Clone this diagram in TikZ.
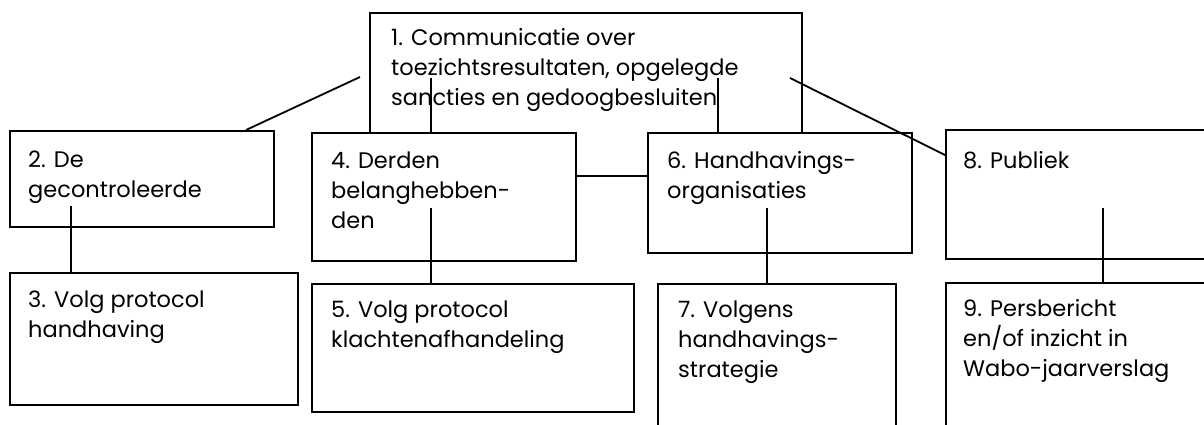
\documentclass[tikz,border=0pt]{standalone}
\usepackage{fontspec}
\setmainfont{Poppins}
\usetikzlibrary{calc}
\tikzset{
  box/.style={draw=black, fill=white, line width=1.8pt, rectangle, inner sep=0pt, anchor=north west},
  txt/.style={anchor=base west, inner sep=0pt, text=black},
  conn/.style={draw=black, line width=1.8pt},
}
\newcommand{\boxtext}[1]{\parbox[t]{400pt}{\fontsize{22.5}{30}\selectfont\raggedright #1}}
\begin{document}
\begin{tikzpicture}[x=1pt,y=-1pt]
\useasboundingbox (0,0) rectangle (1204,425);
\clip (0,0) rectangle (1204,425);
% box 1 (behind)
\node[box, minimum width=432pt, minimum height=163pt] (b1) at (369,12) {};
\node[txt] (t1) at ($(b1.north west)+(22,34)$) {\boxtext{1. Communicatie over\\toezichtsresultaten, opgelegde\\sancties en gedoogbesluiten}};
% other boxes
\node[box, minimum width=264pt, minimum height=96pt] (b2) at (9,130) {};
\node[txt] (t2) at ($(b2.north west)+(19,37)$) {\boxtext{2. De\\gecontroleerde}};
\node[box, minimum width=288pt, minimum height=132pt] (b3) at (9,272) {};
\node[txt] (t3) at ($(b3.north west)+(19,35)$) {\boxtext{3. Volg protocol\\handhaving}};
\node[box, minimum width=264pt, minimum height=128pt] (b4) at (311,132) {};
\node[txt] (t4) at ($(b4.north west)+(20,36)$) {\boxtext{4. Derden\\belanghebben-\\den}};
\node[box, minimum width=322pt, minimum height=128pt] (b5) at (311,283) {};
\node[txt] (t5) at ($(b5.north west)+(20,34)$) {\boxtext{5. Volg protocol\\klachtenafhandeling}};
\node[box, minimum width=264pt, minimum height=120pt] (b6) at (647,132) {};
\node[txt] (t6) at ($(b6.north west)+(20,36)$) {\boxtext{6. Handhavings-\\organisaties}};
\node[box, minimum width=238pt, minimum height=160pt] (b7) at (657,283) {};
\node[txt] (t7) at ($(b7.north west)+(21,34)$) {\boxtext{7. Volgens\\handhavings-\\strategie}};
\node[box, minimum width=280pt, minimum height=129pt] (b8) at (945,129) {};
\node[txt] (t8) at ($(b8.north west)+(18,39)$) {\boxtext{8. Publiek}};
\node[box, minimum width=280pt, minimum height=160pt] (b9) at (945,282) {};
\node[txt] (t9) at ($(b9.north west)+(18,34)$) {\boxtext{9. Persbericht\\en/of inzicht in\\Wabo-jaarverslag}};
% connector free ends
\coordinate (d1) at (360,77);
\coordinate (d2) at (790,78);
\coordinate (c41) at (431,78);
\coordinate (c61) at (718,78);
\coordinate (c23) at (71,206);
\coordinate (c45) at (431,208);
\coordinate (c67) at (767,208);
\coordinate (c89) at (1103,208);
% connectors
\draw[conn] (d1) -- ([xshift=237pt]b2.north west);
\draw[conn] (d2) -- ([yshift=-26pt]b8.north west);
\draw[conn] (c41) -- (c41 |- b4.north);
\draw[conn] (c61) -- (c61 |- b6.north);
\draw[conn] (c23) -- (c23 |- b3.north);
\draw[conn] (c45) -- (c45 |- b5.north);
\draw[conn] (c67) -- (c67 |- b7.north);
\draw[conn] (c89) -- (c89 |- b9.north);
\end{tikzpicture}
\end{document}
